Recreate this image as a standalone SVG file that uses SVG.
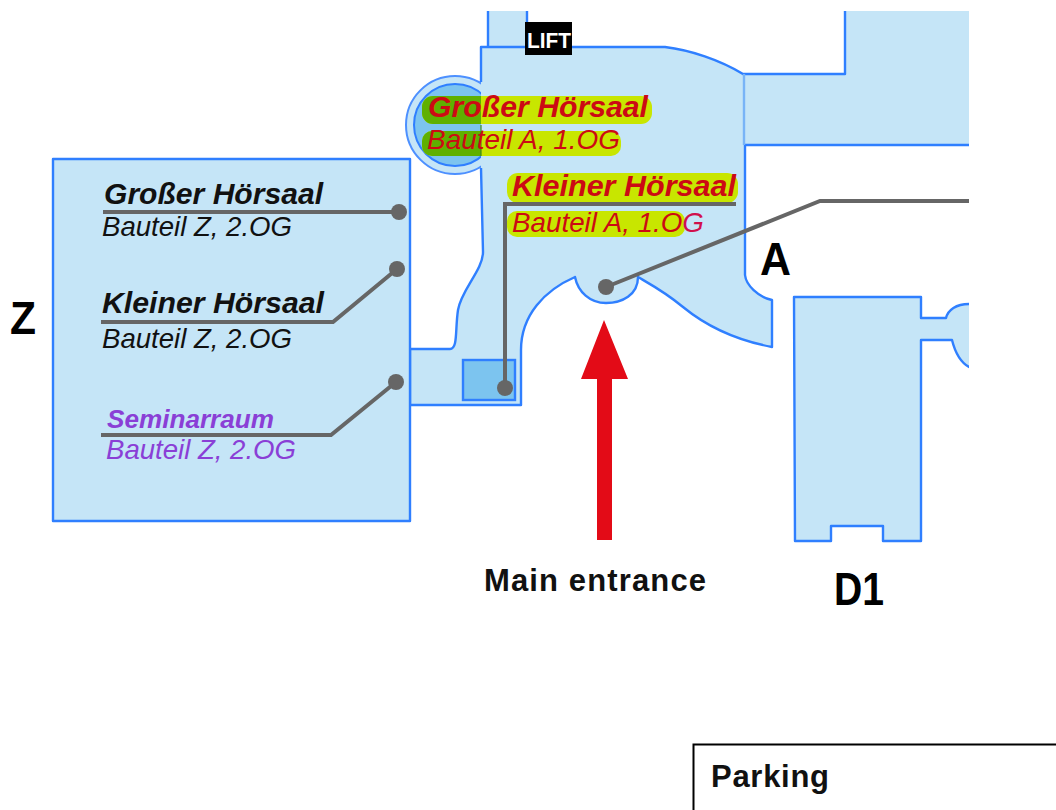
<svg xmlns="http://www.w3.org/2000/svg" width="1056" height="810" viewBox="0 0 1056 810">
<style>
.b{fill:#c5e5f7;stroke:#2f7fff;stroke-width:2.4;stroke-linejoin:round}
.t{font-family:"Liberation Sans",Arial,sans-serif;font-style:italic;font-size:27.500px}
.h{font-weight:bold;font-size:29px}
.k{fill:#111}.r{fill:#cc0a14}.p{fill:#8a3fd6}
.big{font-family:"Liberation Sans",Arial,sans-serif;font-weight:bold;font-size:47px;fill:#000}
.m{font-family:"Liberation Sans",Arial,sans-serif;font-weight:bold;font-size:31px;fill:#111}
.y{fill:#c8e600}
.c{fill:none;stroke:#666;stroke-width:4}
.d{fill:#666}
</style>
<defs>
<clipPath id="plan"><rect x="0" y="11" width="969" height="799"/></clipPath>
<clipPath id="cl"><path d="M400,80H481V170H400Z"/></clipPath>
</defs>
<g id="plan-shapes" clip-path="url(#plan)">
<g id="building-a">
<path class="b" d="M488,50V0H527V50"/>
<circle cx="455" cy="125" r="49" fill="#c5e5f7" stroke="#4d90ff" stroke-width="2"/>
<circle cx="455" cy="125" r="41" fill="#7cc4ef" stroke="#2f7fff" stroke-width="2"/>
<path class="b" d="M481,82L481,47L665,47C690,50 720,60 743,74L845,74L845,0L985,0L985,145L745,145L745,275C746,285 758,297 772,300L772,347C735,340 705,325 683,307C665,292 650,284 638,277C638,295 622,303 606,303C590,303 578,292 575,277C545,290 521,315 521,350L521,405L410,405L410,349L450,349C458,349 455,330 458,310C461,290 483,270 483,252L481,168"/>
<path d="M744,74V145" stroke="#79b4f7" stroke-width="2.400" fill="none"/>
<rect x="463" y="360" width="52" height="40" fill="#7cc4ef" stroke="#2f7fff" stroke-width="2.400"/>
</g>
<g id="building-d1">
<path class="b" d="M794,297H921V318H946C948,310 956,304 969,304H985V375L969,367C960,362 955,352 952,340H921V541H883V526H831V541H795Z"/>
</g>
</g>
<g id="building-z"><rect class="b" x="53" y="159" width="357" height="362"/></g>
<g id="highlights">
<rect class="y" x="422" y="96" width="230" height="28" rx="11"/>
<rect class="y" x="422" y="131" width="199" height="25" rx="10"/>
<rect class="y" x="507" y="173" width="231" height="30" rx="11"/>
<rect class="y" x="507" y="211" width="178" height="26" rx="10"/>
<g clip-path="url(#cl)" fill="#5fb000">
<rect x="422" y="96" width="230" height="28" rx="11"/>
<rect x="422" y="131" width="199" height="25" rx="10"/>
</g>
<path d="M481,125V156" stroke="#3f8a20" stroke-width="1.200" fill="none"/>
</g>
<g id="connectors">
<path class="c" d="M103,212H399"/><circle class="d" cx="399" cy="212" r="8"/>
<path class="c" d="M101,322H333L397,269"/><circle class="d" cx="397" cy="269" r="8"/>
<path class="c" d="M101,435H331L396,382"/><circle class="d" cx="396" cy="382" r="8"/>
<path class="c" d="M505,388V204H736"/><circle class="d" cx="505" cy="388" r="8"/>
<path class="c" d="M606,287L820,201H969"/><circle class="d" cx="606" cy="287" r="8"/>
</g>
<g id="labels-z">
<text class="t h k" x="104" y="204" textLength="219" lengthAdjust="spacingAndGlyphs">Großer Hörsaal</text>
<text class="t k" x="102" y="236" textLength="190" lengthAdjust="spacingAndGlyphs">Bauteil Z, 2.OG</text>
<text class="t h k" x="102" y="313" textLength="222" lengthAdjust="spacingAndGlyphs">Kleiner Hörsaal</text>
<text class="t k" x="102" y="348" textLength="190" lengthAdjust="spacingAndGlyphs">Bauteil Z, 2.OG</text>
<text class="t p" x="107" y="428" style="font-weight:bold;font-size:25px" textLength="167" lengthAdjust="spacingAndGlyphs">Seminarraum</text>
<text class="t p" x="106" y="459" textLength="190" lengthAdjust="spacingAndGlyphs">Bauteil Z, 2.OG</text>
</g>
<g id="labels-a">
<text class="t h r" x="428" y="117" textLength="220" lengthAdjust="spacingAndGlyphs">Großer Hörsaal</text>
<text class="t r" x="427" y="149" textLength="193" lengthAdjust="spacingAndGlyphs">Bauteil A, 1.OG</text>
<text class="t h r" x="512" y="196" textLength="224" lengthAdjust="spacingAndGlyphs">Kleiner Hörsaal</text>
<text class="t r" x="512" y="232" textLength="192" lengthAdjust="spacingAndGlyphs">Bauteil A, 1.O<tspan fill="#d0104c">G</tspan></text>
</g>
<g id="lift"><rect x="525" y="22" width="47" height="33" fill="#000"/><text x="527" y="48" font-family="'Liberation Sans',Arial,sans-serif" font-weight="bold" font-size="22" fill="#fff" textLength="44" lengthAdjust="spacingAndGlyphs">LIFT</text></g>
<g id="building-names">
<text class="big" x="10" y="334" textLength="26" lengthAdjust="spacingAndGlyphs">Z</text>
<text class="big" x="760" y="275" textLength="31" lengthAdjust="spacingAndGlyphs">A</text>
<text class="big" x="834" y="605" textLength="50" lengthAdjust="spacingAndGlyphs">D1</text>
</g>
<g id="entrance">
<path d="M604,320L628,379H612V540H597V379H581Z" fill="#e30b17"/>
<text class="m" x="484" y="591" textLength="222">Main entrance</text>
</g>
<g id="parking">
<rect x="693.500" y="744.500" width="400" height="100" fill="#fff" stroke="#000" stroke-width="2"/>
<text class="m" x="711" y="787" textLength="118">Parking</text>
</g>
</svg>
